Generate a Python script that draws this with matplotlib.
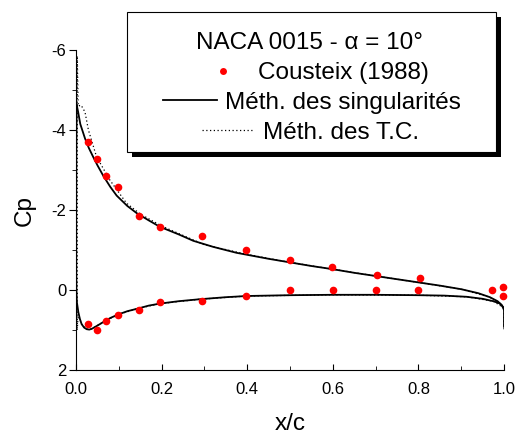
import matplotlib
matplotlib.use("Agg")
import matplotlib.pyplot as plt
from matplotlib.lines import Line2D
from matplotlib.patches import Rectangle
from matplotlib.ticker import MultipleLocator, FormatStrFormatter

plt.rcParams['font.family'] = ['Liberation Sans', 'DejaVu Sans']
plt.rcParams['axes.unicode_minus'] = False

# Cousteix (1988) measurements, extrados / intrados
exp_x_up = [0.027, 0.048, 0.069, 0.097, 0.147, 0.196, 0.294, 0.398, 0.499, 0.597, 0.703, 0.803, 0.972, 0.998]
exp_cp_up = [-3.71, -3.28, -2.86, -2.58, -1.86, -1.57, -1.36, -1.00, -0.75, -0.57, -0.37, -0.29, 0.0, -0.07]
exp_x_lo = [0.027, 0.048, 0.069, 0.097, 0.147, 0.196, 0.294, 0.398, 0.5, 0.6, 0.7, 0.8, 0.998]
exp_cp_lo = [0.85, 1.0, 0.78, 0.63, 0.5, 0.3, 0.28, 0.14, 0.0, 0.0, 0.0, 0.0, 0.15]

# Méthode des singularités (solid line)
sing_x_up = [0.0016, 0.005, 0.01, 0.021, 0.03, 0.04, 0.05, 0.064, 0.08, 0.095, 0.12, 0.142, 0.17, 0.196,
             0.24, 0.274, 0.32, 0.375, 0.4, 0.45, 0.5, 0.55, 0.6, 0.65, 0.7, 0.75, 0.8, 0.85, 0.9,
             0.94, 0.967, 0.985, 0.995, 1.0, 1.0]
sing_cp_up = [-4.63, -4.45, -4.15, -3.79, -3.55, -3.33, -3.12, -2.85, -2.58, -2.36, -2.10, -1.92, -1.74, -1.58,
              -1.39, -1.23, -1.08, -0.93, -0.88, -0.78, -0.69, -0.60, -0.52, -0.43, -0.35, -0.27, -0.19, -0.11, -0.02,
              0.08, 0.18, 0.28, 0.38, 0.5, 0.92]
sing_x_lo = [0.0016, 0.0008, 0.0005, 0.0006, 0.001, 0.002, 0.0054, 0.009, 0.013, 0.019, 0.025, 0.031, 0.037,
             0.05, 0.064, 0.08, 0.099, 0.12, 0.146, 0.17, 0.196, 0.24, 0.29, 0.35, 0.399, 0.5, 0.6, 0.7,
             0.8, 0.86, 0.913, 0.95, 0.975, 0.991, 1.0]
sing_cp_lo = [-4.63, -3.5, -2.0, -0.5, 0.0, 0.3, 0.55, 0.72, 0.85, 0.94, 0.98, 0.99, 0.97,
              0.89, 0.80, 0.70, 0.61, 0.53, 0.46, 0.39, 0.34, 0.28, 0.23, 0.18, 0.15, 0.13, 0.12, 0.12,
              0.13, 0.14, 0.17, 0.22, 0.28, 0.34, 0.45]

# Méthode des T.C. (dotted line)
tc_x = [1.0, 0.975, 0.913, 0.8, 0.6, 0.399, 0.29, 0.196, 0.146, 0.099, 0.064, 0.037, 0.025, 0.013, 0.005,
        0.003, 0.003, 0.005, 0.012, 0.021, 0.029, 0.048, 0.079, 0.118, 0.15, 0.2, 0.3, 0.4, 0.5, 0.6,
        0.7, 0.8, 0.9, 0.967, 0.995, 1.0, 1.0]
tc_cp = [0.45, 0.28, 0.17, 0.13, 0.12, 0.15, 0.23, 0.34, 0.46, 0.61, 0.80, 0.97, 0.98, 0.85, 0.6,
         1.0, -5.85, -4.6, -4.62, -4.45, -4.0, -3.33, -2.75, -2.17, -1.9, -1.6, -1.13, -0.89, -0.69, -0.52,
         -0.35, -0.19, -0.02, 0.18, 0.38, 0.5, 1.0]

W, H = 523, 434
fig = plt.figure(figsize=(W / 100, H / 100), dpi=100)
ax = fig.add_axes([76 / W, 1 - 370 / H, 428 / W, 320 / H])

ax.plot(sing_x_up, sing_cp_up, color='black', lw=1.3, zorder=3)
ax.plot(sing_x_lo, sing_cp_lo, color='black', lw=1.3, zorder=3)
ax.plot(tc_x, tc_cp, color='black', lw=0.9, linestyle=(0, (1, 2)), zorder=3)
ax.plot(exp_x_up, exp_cp_up, 'o', color='red', ms=5.5, mec='none', zorder=4, clip_on=False)
ax.plot(exp_x_lo, exp_cp_lo, 'o', color='red', ms=5.5, mec='none', zorder=4, clip_on=False)

ax.set_xlim(0, 1)
ax.set_ylim(2, -6)
ax.spines['top'].set_visible(False)
ax.spines['right'].set_visible(False)
ax.xaxis.set_major_locator(MultipleLocator(0.2))
ax.xaxis.set_minor_locator(MultipleLocator(0.1))
ax.xaxis.set_major_formatter(FormatStrFormatter('%.1f'))
ax.yaxis.set_major_locator(MultipleLocator(2))
ax.yaxis.set_minor_locator(MultipleLocator(1))
ax.tick_params(axis='x', which='major', direction='in', length=4, labelsize=12, pad=9)
ax.tick_params(axis='x', which='minor', direction='in', length=3)
ax.tick_params(axis='y', which='major', direction='out', length=5, labelsize=12, pad=2)
ax.tick_params(axis='y', which='minor', direction='out', length=3)
ax.set_xlabel('x/c', fontsize=17.5, labelpad=11)
ax.set_ylabel('Cp', fontsize=17.5, labelpad=11)


def px(x, y):
    return x / W, 1 - y / H


# legend box with shadow
bx0, by0, bx1, by1 = 127, 12, 496, 152
fig.add_artist(Rectangle(px(bx0 + 5, by1 + 5), (bx1 - bx0) / W, (by1 - by0) / H,
                         transform=fig.transFigure, facecolor='black', edgecolor='none', zorder=1))
fig.add_artist(Rectangle(px(bx0, by1), (bx1 - bx0) / W, (by1 - by0) / H,
                         transform=fig.transFigure, facecolor='white', edgecolor='black', lw=0.8, zorder=1.5))

fs = 17.5
fig.text(*px(310, 49), 'NACA 0015 - α = 10°', fontsize=fs, ha='center', va='baseline', zorder=3)
fig.add_artist(Line2D([223 / W], [1 - 71 / H], marker='o', color='red', ms=5, mec='none',
                      transform=fig.transFigure, zorder=2))
fig.text(*px(258, 79), 'Cousteix (1988)', fontsize=fs, ha='left', va='baseline', zorder=3)
fig.add_artist(Line2D([163 / W, 217 / W], [1 - 100 / H] * 2, color='black', lw=1.3,
                      transform=fig.transFigure, zorder=2))
fig.text(*px(225, 109), 'Méth. des singularités', fontsize=fs, ha='left', va='baseline', zorder=3)
fig.add_artist(Line2D([202 / W, 253 / W], [1 - 130 / H] * 2, color='black', lw=0.9,
                      linestyle=(0, (1, 2)), transform=fig.transFigure, zorder=2))
fig.text(*px(263, 139), 'Méth. des T.C.', fontsize=fs, ha='left', va='baseline', zorder=3)

fig.savefig('out.png', dpi=100)
